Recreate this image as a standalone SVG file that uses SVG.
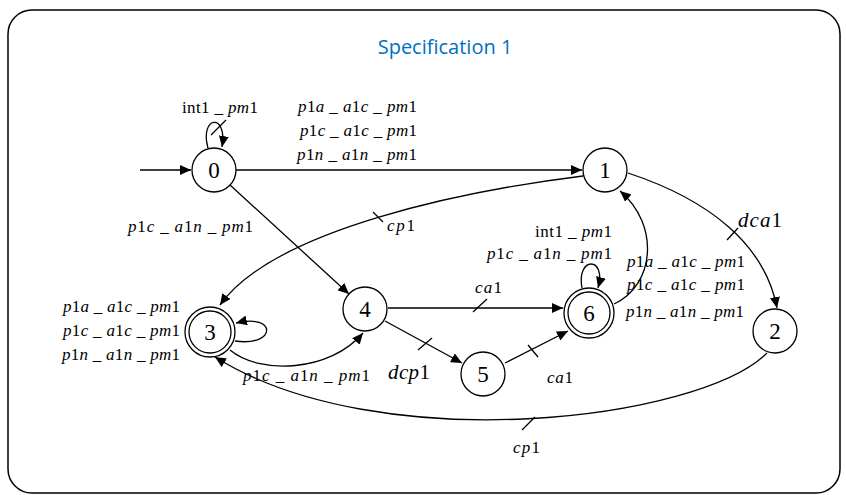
<svg xmlns="http://www.w3.org/2000/svg" width="846" height="495" viewBox="0 0 846 495">
<style>
.frame{fill:#fff;stroke:#000;stroke-width:1.5}
.title{font-family:"Open Sans","Liberation Sans",sans-serif;font-size:20px;fill:#0070C0}
.node{fill:#fff;stroke:#000;stroke-width:1.3}
.nl{font-family:"Liberation Serif","Times New Roman","DejaVu Serif",serif;font-size:23px;text-anchor:middle;fill:#000}
.e{fill:none;stroke:#000;stroke-width:1.3}
.ea{fill:none;stroke:#000;stroke-width:1.3;marker-end:url(#ah)}
.t{fill:none;stroke:#000;stroke-width:1.3}
.lb{font-family:"Liberation Serif","Times New Roman","DejaVu Serif",serif;font-size:17px;fill:#000}
.big{font-size:21px}
.i{font-style:italic}
</style>
<defs>
<marker id="ah" markerUnits="userSpaceOnUse" markerWidth="12" markerHeight="10" refX="11" refY="5" orient="auto">
<path d="M0,0 L11,5 L0,10 Z" fill="#000"/>
</marker>
</defs>
<rect class="frame" x="8" y="10" width="832" height="483" rx="24"/>
<text class="title" x="445" y="54" text-anchor="middle">Specification 1</text>

<g id="connectors">
<path class="ea" d="M140,170 L191,170"/>
<path class="ea" d="M208,148 C199,116 228,112 222,147"/>
<path class="t" d="M211,135 L226,120"/>
<path class="ea" d="M236,170 L582,170"/>
<path class="ea" d="M230,185 L349,294"/>
<path class="ea" d="M583,176 C470,190 275,228 220,305"/>
<path class="t" d="M373,212 L383,222"/>
<path class="ea" d="M628,173 C710,200 765,245 777,308"/>
<path class="t" d="M727,240 L738,228"/>
<path class="ea" d="M614,304 C655,285 660,225 620,191"/>
<path class="ea" d="M388,308 L563,308"/>
<path class="t" d="M473,312 L487,299"/>
<path class="ea" d="M385,321 L462,363"/>
<path class="t" d="M418,350 L432,338"/>
<path class="ea" d="M505,363 L568,331"/>
<path class="t" d="M528,345 L538,357"/>
<path class="ea" d="M235,341 C277,347 277,313 236,323"/>
<path class="ea" d="M230,350 C260,375 330,372 363,333"/>
<path class="ea" d="M767,353 C700,420 380,460 215,357"/>
<path class="t" d="M522,430 L535,417"/>
<path class="ea" d="M582,288 C576,256 607,256 598,288"/>
</g>

<g id="node0"><circle class="node" cx="214" cy="170" r="22"/><text class="nl" x="214" y="178">0</text></g>
<g id="node1"><circle class="node" cx="605" cy="170" r="22"/><text class="nl" x="605" y="178">1</text></g>
<g id="node2"><circle class="node" cx="775" cy="331" r="22"/><text class="nl" x="775" y="339">2</text></g>
<g id="node3"><circle class="node" cx="210" cy="332" r="25"/><circle class="node" cx="210" cy="332" r="21"/><text class="nl" x="210" y="340">3</text></g>
<g id="node4"><circle class="node" cx="365" cy="309" r="22"/><text class="nl" x="365" y="317">4</text></g>
<g id="node5"><circle class="node" cx="483" cy="374" r="22"/><text class="nl" x="483" y="382">5</text></g>
<g id="node6"><circle class="node" cx="589" cy="313" r="25"/><circle class="node" cx="589" cy="313" r="21"/><text class="nl" x="589" y="321">6</text></g>

<g id="labels">
<text class="lb" x="182" y="113" textLength="76" lengthAdjust="spacing">int1 _ <tspan class="i">pm</tspan>1</text>
<text class="lb" x="298" y="112" textLength="119" lengthAdjust="spacing"><tspan class="i">p</tspan>1<tspan class="i">a</tspan> _ <tspan class="i">a</tspan>1<tspan class="i">c</tspan> _ <tspan class="i">pm</tspan>1</text>
<text class="lb" x="300" y="136" textLength="117" lengthAdjust="spacing"><tspan class="i">p</tspan>1<tspan class="i">c</tspan> _ <tspan class="i">a</tspan>1<tspan class="i">c</tspan> _ <tspan class="i">pm</tspan>1</text>
<text class="lb" x="297" y="160" textLength="120" lengthAdjust="spacing"><tspan class="i">p</tspan>1<tspan class="i">n</tspan> _ <tspan class="i">a</tspan>1<tspan class="i">n</tspan> _ <tspan class="i">pm</tspan>1</text>
<text class="lb" x="128" y="232" textLength="125" lengthAdjust="spacing"><tspan class="i">p</tspan>1<tspan class="i">c</tspan> _ <tspan class="i">a</tspan>1<tspan class="i">n</tspan> _ <tspan class="i">pm</tspan>1</text>
<text class="lb" x="387" y="231" textLength="28" lengthAdjust="spacing"><tspan class="i">cp</tspan>1</text>
<text class="lb big" x="738" y="227" textLength="44" lengthAdjust="spacing"><tspan class="i">dca</tspan>1</text>
<text class="lb" x="535" y="237" textLength="77" lengthAdjust="spacing">int1 _ <tspan class="i">pm</tspan>1</text>
<text class="lb" x="487" y="259" textLength="125" lengthAdjust="spacing"><tspan class="i">p</tspan>1<tspan class="i">c</tspan> _ <tspan class="i">a</tspan>1<tspan class="i">n</tspan> _ <tspan class="i">pm</tspan>1</text>
<text class="lb" x="627" y="267" textLength="118" lengthAdjust="spacing"><tspan class="i">p</tspan>1<tspan class="i">a</tspan> _ <tspan class="i">a</tspan>1<tspan class="i">c</tspan> _ <tspan class="i">pm</tspan>1</text>
<text class="lb" x="627" y="290" textLength="118" lengthAdjust="spacing"><tspan class="i">p</tspan>1<tspan class="i">c</tspan> _ <tspan class="i">a</tspan>1<tspan class="i">c</tspan> _ <tspan class="i">pm</tspan>1</text>
<text class="lb" x="626" y="317" textLength="118" lengthAdjust="spacing"><tspan class="i">p</tspan>1<tspan class="i">n</tspan> _ <tspan class="i">a</tspan>1<tspan class="i">n</tspan> _ <tspan class="i">pm</tspan>1</text>
<text class="lb" x="475" y="293" textLength="27" lengthAdjust="spacing"><tspan class="i">ca</tspan>1</text>
<text class="lb big" x="388" y="379" textLength="42" lengthAdjust="spacing"><tspan class="i">dcp</tspan>1</text>
<text class="lb" x="547" y="383" textLength="26" lengthAdjust="spacing"><tspan class="i">ca</tspan>1</text>
<text class="lb" x="513" y="453" textLength="27" lengthAdjust="spacing"><tspan class="i">cp</tspan>1</text>
<text class="lb" x="63" y="312" textLength="117" lengthAdjust="spacing"><tspan class="i">p</tspan>1<tspan class="i">a</tspan> _ <tspan class="i">a</tspan>1<tspan class="i">c</tspan> _ <tspan class="i">pm</tspan>1</text>
<text class="lb" x="63" y="336" textLength="117" lengthAdjust="spacing"><tspan class="i">p</tspan>1<tspan class="i">c</tspan> _ <tspan class="i">a</tspan>1<tspan class="i">c</tspan> _ <tspan class="i">pm</tspan>1</text>
<text class="lb" x="62" y="360" textLength="118" lengthAdjust="spacing"><tspan class="i">p</tspan>1<tspan class="i">n</tspan> _ <tspan class="i">a</tspan>1<tspan class="i">n</tspan> _ <tspan class="i">pm</tspan>1</text>
<text class="lb" x="243" y="381" textLength="127" lengthAdjust="spacing"><tspan class="i">p</tspan>1<tspan class="i">c</tspan> _ <tspan class="i">a</tspan>1<tspan class="i">n</tspan> _ <tspan class="i">pm</tspan>1</text>
</g>
</svg>
